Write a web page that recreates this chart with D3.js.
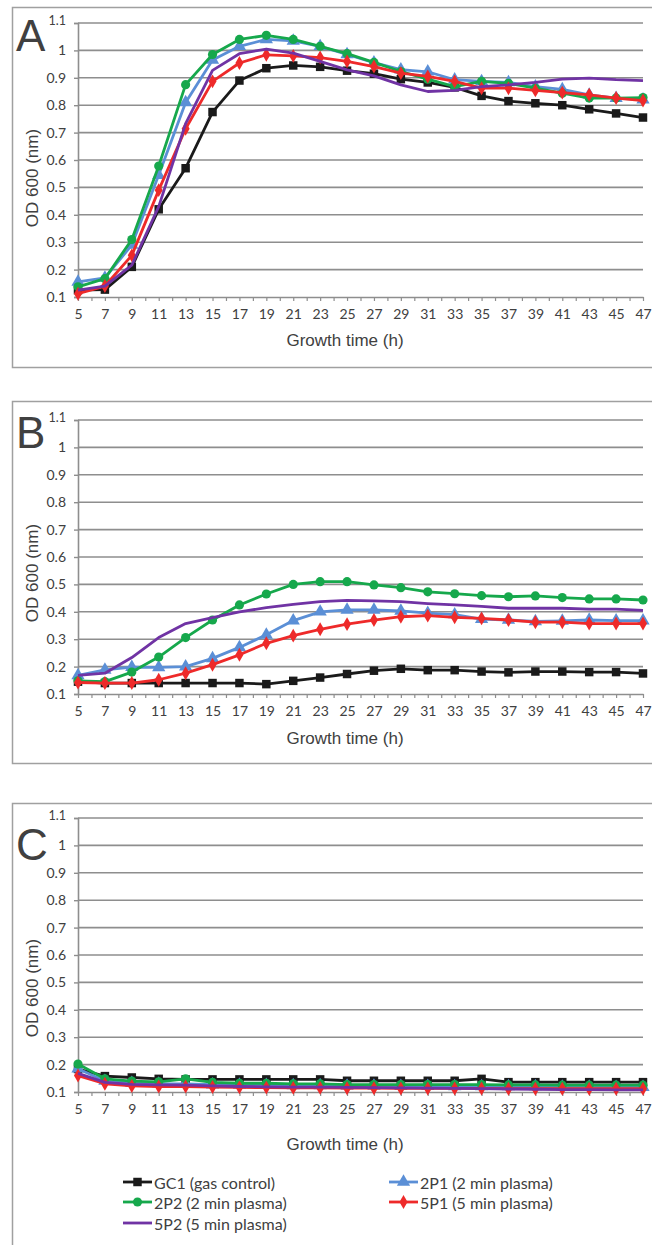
<!DOCTYPE html>
<html>
<head>
<meta charset="utf-8">
<script src="https://cdn.jsdelivr.net/npm/d3@7"></script>
<style>
  body { margin: 0; background: #fff; }
  text { fill: #404040; }
</style>
</head>
<body>
<script>
// time points (h) and y ticks
var hours = [5, 7, 9, 11, 13, 15, 17, 19, 21, 23, 25, 27, 29, 31, 33, 35, 37, 39, 41, 43, 45, 47];
var yTicks = [0.1, 0.2, 0.3, 0.4, 0.5, 0.6, 0.7, 0.8, 0.9, 1, 1.1];
var seriesNames = ["GC1 (gas control)", "2P1 (2 min plasma)", "2P2 (2 min plasma)", "5P1 (5 min plasma)", "5P2 (5 min plasma)"];

// panel A
var a_gc1 = [0.125, 0.127, 0.21, 0.42, 0.57, 0.775, 0.89, 0.935, 0.945, 0.94, 0.926, 0.915, 0.895, 0.883, 0.865, 0.834, 0.815, 0.807, 0.8, 0.785, 0.77, 0.755];
var a_2p1 = [0.155, 0.17, 0.29, 0.545, 0.81, 0.965, 1.015, 1.04, 1.035, 1.015, 0.985, 0.955, 0.93, 0.922, 0.893, 0.887, 0.883, 0.868, 0.858, 0.838, 0.826, 0.82];
var a_2p2 = [0.137, 0.167, 0.31, 0.578, 0.875, 0.985, 1.04, 1.055, 1.04, 1.015, 0.988, 0.956, 0.923, 0.895, 0.868, 0.887, 0.88, 0.862, 0.844, 0.826, 0.826, 0.828];
var a_5p1 = [0.112, 0.14, 0.252, 0.49, 0.714, 0.887, 0.954, 0.984, 0.98, 0.974, 0.96, 0.941, 0.917, 0.905, 0.887, 0.862, 0.862, 0.854, 0.846, 0.838, 0.826, 0.817];
var a_5p2 = [0.125, 0.14, 0.216, 0.43, 0.733, 0.927, 0.988, 1.005, 0.99, 0.96, 0.929, 0.907, 0.874, 0.85, 0.854, 0.868, 0.874, 0.883, 0.895, 0.899, 0.893, 0.89];

// panel B
var b_gc1 = [0.145, 0.14, 0.14, 0.14, 0.14, 0.14, 0.14, 0.136, 0.148, 0.16, 0.173, 0.185, 0.192, 0.187, 0.187, 0.182, 0.179, 0.182, 0.182, 0.18, 0.18, 0.175];
var b_2p1 = [0.168, 0.188, 0.198, 0.197, 0.2, 0.23, 0.27, 0.316, 0.368, 0.4, 0.407, 0.407, 0.403, 0.395, 0.39, 0.373, 0.37, 0.365, 0.367, 0.37, 0.368, 0.368];
var b_2p2 = [0.148, 0.145, 0.18, 0.235, 0.306, 0.37, 0.425, 0.465, 0.5, 0.51, 0.51, 0.498, 0.488, 0.473, 0.466, 0.459, 0.455, 0.458, 0.452, 0.447, 0.447, 0.443];
var b_5p1 = [0.142, 0.14, 0.14, 0.152, 0.176, 0.207, 0.243, 0.285, 0.313, 0.336, 0.355, 0.37, 0.382, 0.386, 0.38, 0.376, 0.37, 0.362, 0.362, 0.357, 0.357, 0.357];
var b_5p2 = [0.168, 0.176, 0.233, 0.306, 0.357, 0.379, 0.4, 0.415, 0.427, 0.437, 0.442, 0.44, 0.437, 0.43, 0.425, 0.42, 0.413, 0.413, 0.413, 0.41, 0.41, 0.405];

// panel C
var c_gc1 = [0.184, 0.158, 0.153, 0.148, 0.146, 0.146, 0.146, 0.146, 0.146, 0.146, 0.141, 0.141, 0.141, 0.141, 0.141, 0.148, 0.136, 0.136, 0.136, 0.136, 0.136, 0.136];
var c_2p1 = [0.185, 0.14, 0.132, 0.13, 0.13, 0.127, 0.126, 0.125, 0.124, 0.124, 0.122, 0.122, 0.121, 0.121, 0.12, 0.12, 0.12, 0.12, 0.119, 0.119, 0.118, 0.118];
var c_2p2 = [0.202, 0.148, 0.14, 0.137, 0.148, 0.135, 0.132, 0.132, 0.13, 0.13, 0.127, 0.127, 0.127, 0.127, 0.127, 0.127, 0.126, 0.126, 0.125, 0.125, 0.125, 0.125];
var c_5p1 = [0.16, 0.13, 0.122, 0.12, 0.12, 0.118, 0.117, 0.116, 0.115, 0.115, 0.114, 0.114, 0.113, 0.113, 0.113, 0.113, 0.112, 0.112, 0.112, 0.112, 0.112, 0.112];
var c_5p2 = [0.168, 0.135, 0.128, 0.126, 0.125, 0.122, 0.12, 0.119, 0.118, 0.118, 0.117, 0.116, 0.115, 0.114, 0.113, 0.112, 0.111, 0.11, 0.109, 0.109, 0.108, 0.108];

var colors = ["#1a1a1a", "#5b8fd6", "#16a84c", "#ee2a2a", "#7033a4"];
var symbols = [d3.symbolSquare, d3.symbolTriangle, d3.symbolCircle, d3.symbolDiamond, null];
var symSizes = [72, 76, 66, 56, 0];

var panels = [
	{letter: "A", top: 7, bottom: 367, plotTop: 23, titleDy: 43, yTitle: 178, letterY: 51, data: [a_gc1, a_2p1, a_2p2, a_5p1, a_5p2]},
	{letter: "B", top: 401, bottom: 763, plotTop: 420, titleDy: 44, yTitle: 573, letterY: 448, data: [b_gc1, b_2p1, b_2p2, b_5p1, b_5p2]},
	{letter: "C", top: 803, bottom: 1260, plotTop: 818, titleDy: 52, yTitle: 988, letterY: 860, data: [c_gc1, c_2p1, c_2p2, c_5p1, c_5p2]}
];

var width = 652, height = 1245;
var plotLeft = 78, plotRight = 643, plotH = 274;

var svg = d3.select("body").append("svg")
	.attr("width", width)
	.attr("height", height);

var x = d3.scaleLinear().domain([5, 47]).range([plotLeft, plotRight]);
var allHours = d3.range(5, 48);

function fmt(d) {
	return d === 1 ? "1" : d3.format(".1f")(d);
}

panels.forEach(function(p) {
	var g = svg.append("g");
	var y = d3.scaleLinear().domain([0.1, 1.1]).range([p.plotTop + plotH, p.plotTop]);
	var plotBottom = p.plotTop + plotH;

	// outer box
	g.append("rect")
		.attr("x", 12.5).attr("y", p.top + 0.5)
		.attr("width", 641).attr("height", p.bottom - p.top)
		.attr("fill", "none").attr("stroke", "#a0a0a0").attr("stroke-width", 1.5);

	// gridlines
	g.append("g").selectAll("line")
		.data(yTicks.slice(1))
		.enter().append("line")
		.attr("x1", plotLeft).attr("x2", plotRight)
		.attr("y1", function(d) { return y(d); })
		.attr("y2", function(d) { return y(d); })
		.attr("stroke", "#8e8e8e").attr("stroke-width", 1.6);

	// y axis
	var ya = g.append("g")
		.attr("transform", "translate(" + plotLeft + ",0)")
		.call(d3.axisLeft(y).tickValues(yTicks).tickFormat(fmt).tickSize(4).tickPadding(8));
	ya.select(".domain").attr("stroke", "#8e8e8e").attr("stroke-width", 1.6);
	ya.selectAll(".tick line").attr("stroke", "#8e8e8e").attr("stroke-width", 1.4);
	ya.selectAll("text")
		.attr("fill", "#404040")
		.style("font-family", "Lato, 'Open Sans', sans-serif")
		.style("font-size", "14px");
	ya.selectAll(".tick").filter(function(d) { return d === 1.1; })
		.select("text").style("font-size", "12.5px").attr("dy", "0.1em");

	// x axis, minor ticks every hour
	var xm = g.append("g")
		.attr("transform", "translate(0," + plotBottom + ")")
		.call(d3.axisBottom(x).tickValues(allHours).tickFormat("").tickSize(4).tickSizeOuter(0));
	xm.select(".domain").attr("stroke", "#8e8e8e").attr("stroke-width", 1.6);
	xm.selectAll(".tick line").attr("stroke", "#8e8e8e").attr("stroke-width", 1.2);

	var xa = g.append("g")
		.attr("transform", "translate(0," + plotBottom + ")")
		.call(d3.axisBottom(x).tickValues(hours).tickSize(0).tickPadding(12));
	xa.select(".domain").remove();
	xa.selectAll("text")
		.attr("fill", "#404040")
		.style("font-family", "Lato, 'Open Sans', sans-serif")
		.style("font-size", "14px");

	// axis titles
	g.append("text")
		.attr("x", 345).attr("y", plotBottom + p.titleDy)
		.attr("text-anchor", "middle").attr("dominant-baseline", "central")
		.style("font-family", "'Liberation Sans', Arial, sans-serif")
		.style("font-size", "17px")
		.text("Growth time (h)");

	g.append("text")
		.attr("transform", "translate(32," + p.yTitle + ") rotate(-90)")
		.attr("text-anchor", "middle").attr("dominant-baseline", "central")
		.style("font-family", "'Liberation Sans', Arial, sans-serif")
		.style("font-size", "17px")
		.text("OD 600 (nm)");

	// panel letter
	g.append("text")
		.attr("x", 16).attr("y", p.letterY)
		.style("font-family", "'Liberation Sans', Arial, sans-serif")
		.style("font-size", "44px")
		.attr("fill", "#262626")
		.text(p.letter);

	// series
	var line = d3.line()
		.x(function(d, i) { return x(hours[i]); })
		.y(function(d) { return y(d); });

	p.data.forEach(function(vals, si) {
		g.append("path")
			.datum(vals)
			.attr("d", line)
			.attr("fill", "none")
			.attr("stroke", colors[si])
			.attr("stroke-width", 2.8)
			.attr("stroke-linejoin", "round");
		if (symbols[si]) {
			g.append("g").selectAll("path")
				.data(vals)
				.enter().append("path")
				.attr("transform", function(d, i) { return "translate(" + x(hours[i]) + "," + y(d) + ")"; })
				.attr("d", d3.symbol().type(symbols[si]).size(symSizes[si]))
				.attr("fill", colors[si]);
		}
	});
});

// legend (bottom of panel C)
var legendPos = [
	{x: 123, y: 1182}, {x: 389, y: 1182},
	{x: 123, y: 1202}, {x: 389, y: 1202},
	{x: 123, y: 1223}
];
var lg = svg.append("g");
seriesNames.forEach(function(name, i) {
	var p = legendPos[i];
	lg.append("line")
		.attr("x1", p.x).attr("x2", p.x + 29)
		.attr("y1", p.y).attr("y2", p.y)
		.attr("stroke", colors[i]).attr("stroke-width", 2.8);
	if (symbols[i]) {
		lg.append("path")
			.attr("transform", "translate(" + (p.x + 14.5) + "," + p.y + ")")
			.attr("d", d3.symbol().type(symbols[i]).size(symSizes[i]))
			.attr("fill", colors[i]);
	}
	lg.append("text")
		.attr("x", p.x + 31).attr("y", p.y)
		.attr("dominant-baseline", "central")
		.style("font-family", "Lato, 'Open Sans', sans-serif")
		.style("font-size", "16px")
		.text(name);
});
</script>
</body>
</html>
